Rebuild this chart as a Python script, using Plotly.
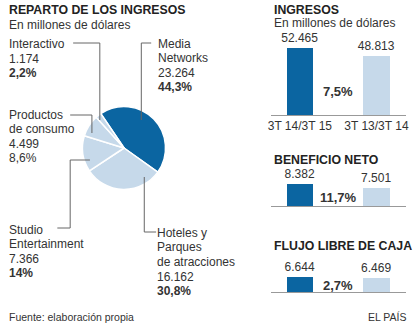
import plotly.graph_objects as go

# ---------------- data ----------------
pie_labels = ["Media Networks", "Hoteles y Parques de atracciones",
              "Studio Entertainment", "Productos de consumo", "Interactivo"]
pie_label_lines = [["Media", "Networks"], ["Hoteles y", "Parques", "de atracciones"],
                   ["Studio", "Entertainment"], ["Productos", "de consumo"], ["Interactivo"]]
pie_values = [23264, 16162, 7366, 4499, 1174]
pie_pct = ["44,3%", "30,8%", "14%", "8,6%", "2,2%"]
pie_pct_bold = [True, True, True, False, True]

periods = ["3T 14/3T 15", "3T 13/3T 14"]
ingresos = [52465, 48813]
beneficio = [8382, 7501]
flujo = [6644, 6469]
growth = ["7,5%", "11,7%", "2,7%"]
panel_titles = ["INGRESOS", "BENEFICIO NETO", "FLUJO LIBRE DE CAJA"]

# ---------------- styling ----------------
W, H = 414, 324
FONT = "Liberation Sans, Arial, sans-serif"
DARK = "#0b65a1"
LIGHT = "#c6d9ea"
TXT = "#333333"
LINE = "#666666"


def px(x):
    return x / W


def py(y):
    return 1 - y / H


def fmt(v):
    return f"{v:,}".replace(",", ".")


annotations = []
shapes = []


def txt(x, y, s, size=12, bold=False, anchor="left", color=TXT, xref="paper"):
    annotations.append(dict(
        xref=xref, yref="paper", x=(px(x) if xref == "paper" else x), y=py(y),
        text=(f"<b>{s}</b>" if bold else s), showarrow=False,
        xanchor=anchor, yanchor="middle", borderpad=0,
        font=dict(size=size, color=color, family=FONT)))


fig = go.Figure()

# ---------------- pie ----------------
cx, cy, r = 122.5, 148, 42
fig.add_trace(go.Pie(
    labels=pie_labels, values=pie_values, sort=False, direction="clockwise",
    rotation=-34, textinfo="none", hoverinfo="skip", showlegend=False,
    marker=dict(colors=[DARK, LIGHT, LIGHT, LIGHT, LIGHT],
                line=dict(color="white", width=1.5)),
    domain=dict(x=[px(cx - r), px(cx + r)], y=[py(cy + r), py(cy - r)]),
))

# label blocks: (x, first line y)
label_pos = [(156, 43.5), (155, 233), (5, 229.5), (5, 114.5), (5, 44)]
LS = 14.5
for i, (lx, ly) in enumerate(label_pos):
    lines = pie_label_lines[i]
    for j, ln in enumerate(lines):
        txt(lx, ly + j * LS, ln)
    n = len(lines)
    txt(lx, ly + n * LS, fmt(pie_values[i]))
    txt(lx, ly + (n + 1) * LS, pie_pct[i], bold=pie_pct_bold[i])

leaders = [
    [(150, 43), (140, 43), (140, 120)],
    [(155, 232), (143, 232), (143, 177)],
    [(55, 228), (68, 228), (68, 160), (88, 160)],
    [(68, 115), (90, 115), (90, 133)],
    [(71, 43), (98, 43), (98, 120)],
]
for pts in leaders:
    path = "M " + " L ".join(f"{px(a)},{py(b)}" for a, b in pts)
    shapes.append(dict(type="path", xref="paper", yref="paper", path=path,
                       line=dict(color=LINE, width=1)))

# titles left
txt(5, 10, "REPARTO DE LOS INGRESOS", size=12.3, bold=True, color="#222")
txt(5, 24.5, "En millones de dólares", size=12)
txt(5, 317, "Fuente: elaboración propia", size=10.5)
txt(410, 317, "EL PAÍS", size=10.5, anchor="right")

# ---------------- bars ----------------
series = [ingresos, beneficio, flujo]
# (baseline px, top px of tallest bar, base value, domain top px, title y)
panels = [(115, 48, 20000, 28, 10), (206, 184, 3500, 162, 159.5), (292, 277, 4000, 255, 246)]
XL, XR = 271, 408
spacing = 77.5
x_left = (300.5 - XL) / spacing
xrange = [-x_left, -x_left + (XR - XL) / spacing]

for k, (vals, (base_px, top_px, base_v, dom_top, ty)) in enumerate(zip(series, panels)):
    sfx = "" if k == 0 else str(k + 1)
    scale = (base_px - top_px) / (max(vals) - base_v)
    yr = [base_v, base_v + (base_px - dom_top) / scale]
    fig.add_trace(go.Bar(
        x=periods, y=vals, xaxis="x" + sfx, yaxis="y" + sfx,
        marker=dict(color=[DARK, LIGHT], line=dict(width=0)),
        width=27 / spacing, text=[fmt(v) for v in vals], textposition="outside",
        constraintext="none",
        textfont=dict(size=12, color=TXT, family=FONT), hoverinfo="skip",
        showlegend=False))
    fig.layout["xaxis" + sfx] = dict(
        domain=[px(XL), px(XR)], anchor="y" + sfx, type="category", range=xrange,
        showline=True, linecolor="#999999", linewidth=1, ticks="",
        showgrid=False, zeroline=False, showticklabels=(k == 0),
        tickfont=dict(size=12, color=TXT, family=FONT), fixedrange=True)
    fig.layout["yaxis" + sfx] = dict(
        domain=[py(base_px), py(dom_top)], anchor="x" + sfx, range=yr,
        visible=False, fixedrange=True)
    txt(273, ty, panel_titles[k], size=12.3, bold=True, color="#222")

txt(273, 23.5, "En millones de dólares", size=12)
growth_y = [92, 197, 285]
for g, gy in zip(growth, growth_y):
    annotations.append(dict(xref="x", yref="paper", x=0.5, y=py(gy), text=f"<b>{g}</b>",
                            showarrow=False, xanchor="center", yanchor="middle",
                            borderpad=0, font=dict(size=13, color=TXT, family=FONT)))

fig.update_layout(
    width=W, height=H, margin=dict(l=0, r=0, t=0, b=0),
    paper_bgcolor="white", plot_bgcolor="white",
    annotations=annotations, shapes=shapes, bargap=0,
    font=dict(family=FONT, color=TXT),
)
fig.write_html("out.html", config={"displayModeBar": False})
